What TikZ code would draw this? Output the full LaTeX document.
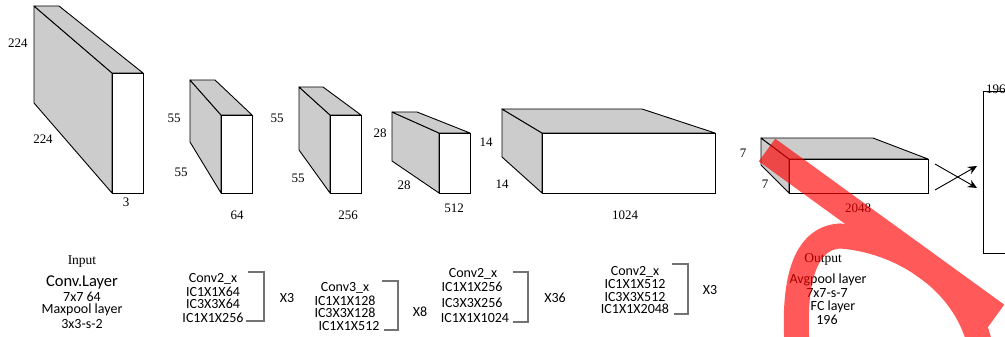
\documentclass[tikz,border=0pt]{standalone}
\usepackage{fontspec}
\setmainfont{Liberation Serif}
\newfontfamily\calibrifont{Carlito}
\usetikzlibrary{arrows.meta}

\begin{document}
\begin{tikzpicture}[x=1pt, y=-1pt, >={Stealth[length=9pt, width=8pt]},
    side/.style={fill=gray!40, draw=black, line width=0.9pt, line join=round},
    front/.style={fill=white, draw=black, line width=0.9pt},
    dim/.style={font=\fontsize{13}{13}\selectfont, inner sep=0pt},
    serifhead/.style={font=\fontsize{13.5}{13.5}\selectfont, inner sep=0pt},
    layer/.style={font=\calibrifont\fontsize{14}{14}\selectfont, inner sep=0pt},
    bracket/.style={draw=black!55, line width=1.2pt},
    scribble/.style={draw=red}]
    % 0. Khung hình
    \useasboundingbox (0,0) rectangle (1005,337);

    % 1. Khối Input 224x224x3
    \filldraw[side] (34,6) -- (112,73) -- (112,193) -- (34,103) -- cycle;
    \filldraw[side] (34,6) -- (59,6) -- (143,73) -- (112,73) -- cycle;
    \filldraw[front] (112,73) rectangle (143,193);
    \node[dim] (inA) at (18,43) {224};
    \node[dim] (inB) at (43,139) {224};
    \node[dim] (inC) at (126,202) {3};

    % 2. Khối 55x55x64
    \filldraw[side] (190,80) -- (221,115) -- (221,193) -- (190,142) -- cycle;
    \filldraw[side] (190,80) -- (215,80) -- (252,115) -- (221,115) -- cycle;
    \filldraw[front] (221,115) rectangle (252,193);
    \node[dim] (cA) at (174,118) {55};
    \node[dim] (cB) at (181,172) {55};
    \node[dim] (cC) at (237,215) {64};

    % 3. Khối 55x55x256
    \filldraw[side] (299,87) -- (330,115) -- (330,193) -- (299,150) -- cycle;
    \filldraw[side] (299,87) -- (323,87) -- (361,115) -- (330,115) -- cycle;
    \filldraw[front] (330,115) rectangle (361,193);
    \node[dim] (dA) at (277,118) {55};
    \node[dim] (dB) at (298,178) {55};
    \node[dim] (dC) at (348,215) {256};

    % 4. Khối 28x28x512
    \filldraw[side] (392,112) -- (439,133) -- (439,193) -- (392,161) -- cycle;
    \filldraw[side] (392,112) -- (417,112) -- (470,133) -- (439,133) -- cycle;
    \filldraw[front] (439,133) rectangle (470,193);
    \node[dim] (eA) at (380,133) {28};
    \node[dim] (eB) at (404,185) {28};
    \node[dim] (eC) at (454,208) {512};

    % 5. Khối 14x14x1024
    \filldraw[side] (502,109) -- (542,133) -- (542,193) -- (502,157) -- cycle;
    \filldraw[side] (502,109) -- (642,109) -- (715,133) -- (542,133) -- cycle;
    \filldraw[front] (542,133) rectangle (715,193);
    \node[dim] (fA) at (486,142) {14};
    \node[dim] (fB) at (502,184) {14};
    \node[dim] (fC) at (625,215) {1024};

    % 6. Khối 7x7x2048
    \filldraw[side] (761,138) -- (789,159) -- (789,193) -- (761,165) -- cycle;
    \filldraw[side] (761,138) -- (873,138) -- (928,159) -- (789,159) -- cycle;
    \filldraw[front] (789,159) rectangle (928,193);
    \node[dim] (gA) at (743,153) {7};
    \node[dim] (gB) at (765,184) {7};
    \node[dim] (gC) at (858,208) {2048};

    % 7. Mũi tên chéo và lớp FC 196
    \coordinate (xTopL) at (935,164);
    \coordinate (xBotL) at (935,190);
    \coordinate (xTopR) at (977,166);
    \coordinate (xBotR) at (977,188);
    \draw[->, line width=0.9pt] (xTopL) -- (xBotR);
    \draw[->, line width=0.9pt] (xBotL) -- (xTopR);
    \draw[line width=0.9pt] (1010,91) -- (983,91) -- (983,253) -- (1010,253);
    \node[dim, anchor=west] (fcN) at (986,89) {196};

    % 8. Chú thích phía dưới
    \node[serifhead] (inTxt) at (82,262) {Input};
    \node[layer, font=\calibrifont\fontsize{16.5}{16.5}\selectfont] (inL1) at (82,282) {Conv.Layer};
    \node[layer] (inL2) at (82,297) {7x7 64};
    \node[layer] (inL3) at (82,310) {Maxpool layer};
    \node[layer] (inL4) at (82,324) {3x3-s-2};

    \node[layer] (bA1) at (213,279) {Conv2\_x};
    \node[layer] (bA2) at (213,292) {IC1X1X64};
    \node[layer] (bA3) at (213,304) {IC3X3X64};
    \node[layer] (bA4) at (213,318) {IC1X1X256};
    \draw[bracket] (248,272) -- (264,272) -- (264,321) -- (246,321);
    \node[layer] (bAx) at (287,298) {X3};

    \node[layer] (bB1) at (345,288) {Conv3\_x};
    \node[layer] (bB2) at (345,301) {IC1X1X128};
    \node[layer] (bB3) at (345,313) {IC3X3X128};
    \node[layer] (bB4) at (349,326) {IC1X1X512};
    \draw[bracket] (382,281) -- (398,281) -- (398,330) -- (384,330);
    \node[layer] (bBx) at (420,312) {X8};

    \node[layer] (bC1) at (473,274) {Conv2\_x};
    \node[layer] (bC2) at (472,287) {IC1X1X256};
    \node[layer] (bC3) at (472,303) {IC3X3X256};
    \node[layer] (bC4) at (475,318) {IC1X1X1024};
    \draw[bracket] (513,272) -- (528,272) -- (528,322) -- (513,322);
    \node[layer] (bCx) at (555,298) {X36};

    \node[layer] (bD1) at (635,272) {Conv2\_x};
    \node[layer] (bD2) at (635,284) {IC1X1X512};
    \node[layer] (bD3) at (635,297) {IC3X3X512};
    \node[layer] (bD4) at (635,309) {IC1X1X2048};
    \draw[bracket] (672,264) -- (688,264) -- (688,314) -- (674,314);
    \node[layer] (bDx) at (710,290) {X3};

    \node[serifhead] (outTxt) at (823,259) {Output};
    \node[layer] (outL1) at (828,280) {Avgpool layer};
    \node[layer] (outL2) at (827,293) {7x7-s-7};
    \node[layer] (outL3) at (833,307) {FC layer};
    \node[layer] (outL4) at (827,320) {196};

    % 9. Nét vẽ đỏ
    \begin{scope}[transparency group, opacity=0.65]
        \draw[scribble, line width=28pt] (767,150) -- (996,316);
        \draw[scribble, line width=25pt] (797,345) .. controls (793,280) and (805,238) .. (840,236)
            .. controls (900,240) and (965,280) .. (980,345);
    \end{scope}
\end{tikzpicture}
\end{document}
